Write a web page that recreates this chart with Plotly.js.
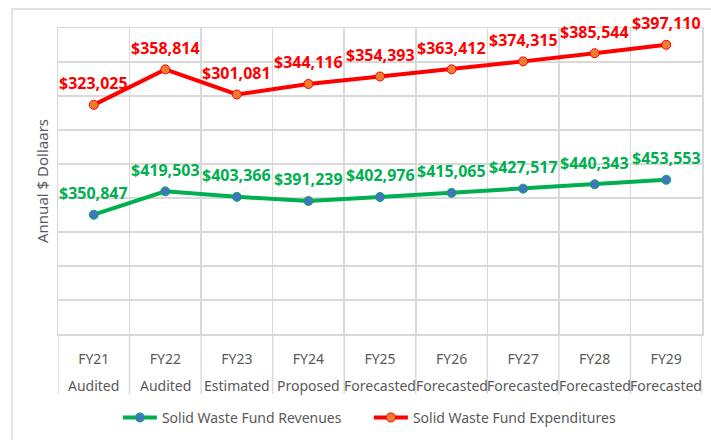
<!DOCTYPE html>
<html><head><meta charset="utf-8">
<script src="https://cdn.plot.ly/plotly-3.0.1.min.js"></script>
<style>html,body{margin:0;padding:0;background:#fff}#chart{width:711px;height:440px}</style>
</head><body><div id="chart"></div>
<script>
const categories = ['FY21','FY22','FY23','FY24','FY25','FY26','FY27','FY28','FY29'];
const statuses = ['Audited','Audited','Estimated','Proposed','Forecasted','Forecasted','Forecasted','Forecasted','Forecasted'];
const revenues = [350847, 419503, 403366, 391239, 402976, 415065, 427517, 440343, 453553];
const expenditures = [323025, 358814, 301081, 344116, 354393, 363412, 374315, 385544, 397110];

const GREEN = '#00b050', RED = '#ff0000', GRID = '#d9d9d9', TXT = '#595959';
const FONT = 'Noto Sans, sans-serif';
const fmt = v => '$' + v.toLocaleString('en-US');

const traces = [
  {x: categories, y: revenues, name: 'Solid Waste Fund Revenues', type: 'scatter', mode: 'lines+markers',
   stackgroup: 'one', fill: 'none',
   line: {color: GREEN, width: 4}, marker: {size: 9, color: '#4472c4', line: {color: GREEN, width: 1}}},
  {x: categories, y: expenditures, name: 'Solid Waste Fund Expenditures', type: 'scatter', mode: 'lines+markers',
   stackgroup: 'one', fill: 'none',
   line: {color: RED, width: 4}, marker: {size: 9, color: '#ed7d31', line: {color: RED, width: 1}}}
];

const annotations = [];
categories.forEach((c, i) => {
  annotations.push({x: c, y: revenues[i], text: fmt(revenues[i]), showarrow: false, yshift: 21.5,
    font: {family: FONT, size: 16, color: GREEN, weight: 'bold'}});
  annotations.push({x: c, y: revenues[i] + expenditures[i], text: fmt(expenditures[i]), showarrow: false, yshift: 21.5,
    font: {family: FONT, size: 16, color: RED, weight: 'bold'}});
  annotations.push({x: c, xref: 'x', y: -0.167, yref: 'paper', yanchor: 'middle', text: statuses[i], showarrow: false,
    font: {family: FONT, size: 14, color: TXT}});
});

const shapes = [];
for (let i = 0; i <= categories.length; i++) {
  shapes.push({type: 'line', xref: 'x', yref: 'paper', x0: i - 0.5, x1: i - 0.5, y0: 0, y1: -0.196,
    line: {color: GRID, width: 1.5}, layer: 'below'});
}
shapes.push({type: 'rect', xref: 'paper', yref: 'paper', x0: -0.0714, x1: 1.2, y0: -0.6, y1: 1.062,
  line: {color: GRID, width: 1.5}, layer: 'below'});

const layout = {
  width: 711, height: 440,
  margin: {l: 58, r: 9, t: 28, b: 106, autoexpand: false},
  paper_bgcolor: '#fff', plot_bgcolor: '#fff',
  font: {family: FONT, color: TXT, size: 13},
  showlegend: true,
  legend: {orientation: 'h', x: 0.093, xanchor: 'left', y: -0.274, yanchor: 'middle', itemwidth: 34,
    font: {family: FONT, size: 14, color: TXT}, entrywidth: 202, entrywidthmode: 'pixels', tracegroupgap: 0},
  xaxis: {type: 'category', tickson: 'boundaries', showgrid: true, gridcolor: GRID, gridwidth: 1.5,
    ticks: '', showline: true, mirror: true, linecolor: GRID, linewidth: 1.5, zeroline: false, range: [-0.5, 8.5], fixedrange: true,
    tickfont: {family: FONT, size: 14, color: TXT}, ticklabelstandoff: 12, automargin: false},
  yaxis: {range: [0, 900000], dtick: 100000, showgrid: true, gridcolor: GRID, gridwidth: 1.5,
    showticklabels: false, zeroline: false, showline: true, mirror: true, linecolor: GRID, linewidth: 1.5, ticks: '',
    automargin: false,
    title: {text: 'Annual $ Dollaars', standoff: 4, font: {family: FONT, size: 15, color: TXT}}},
  annotations: annotations,
  shapes: shapes
};

Plotly.newPlot('chart', traces, layout, {displayModeBar: false, staticPlot: true});
</script>
</body></html>
